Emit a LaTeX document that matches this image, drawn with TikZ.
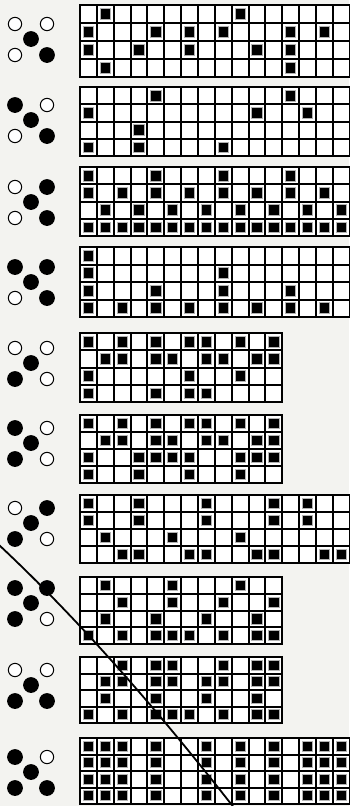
\documentclass[tikz,border=0pt]{standalone}
\usepackage{xcolor}
\usepackage{tikz}
\usetikzlibrary{positioning,calc}
\definecolor{paper}{RGB}{243,243,240}
\newcommand{\cellw}{16.85}
\newcommand{\gridpanel}[4]{%
  \pgfmathsetmacro{\cellh}{(#2-#1)/4}
  \fill[white] (80,#1) rectangle ({80+#3*\cellw},#2);
  \foreach \rowcells [count=\r from 0] in {#4}{
    \foreach \c in \rowcells{
      \draw[markcell] ({80+\c*\cellw+3.3},{#1+\r*\cellh+3.3}) rectangle ({80+(\c+1)*\cellw-3.3},{#1+(\r+1)*\cellh-3.3});
    }
  }
  \foreach \c in {0,...,#3}
    \draw[gridline] ({80+\c*\cellw},#1) -- ({80+\c*\cellw},#2);
  \foreach \r in {0,...,4}
    \draw[gridline] (79,{#1+\r*\cellh}) -- ({81+#3*\cellw},{#1+\r*\cellh});
}
\newcommand{\dotcluster}[6]{%
  \node[dot#3] (#1tl) at (15,{#2-15}) {};
  \node[dot#4] (#1tr) at (47,{#2-15}) {};
  \node[dot1]  (#1c)  at (31,#2) {};
  \node[dot#5] (#1bl) at (15,{#2+16}) {};
  \node[dot#6] (#1br) at (47,{#2+16}) {};
}

\begin{document}
\begin{tikzpicture}[
    x=1pt, y=-1pt,
    dot0/.style={circle, draw=black, line width=1pt, fill=white, minimum size=13.3pt, inner sep=0pt},
    dot1/.style={circle, fill=black, minimum size=15.8pt, inner sep=0pt},
    gridline/.style={draw=black, line width=2pt},
    markcell/.style={fill=black, draw=black!30, line width=0.8pt},
    slash/.style={draw=black, line width=1.8pt}
]
\useasboundingbox (0,0) rectangle (349,806);
\fill[paper] (0,0) rectangle (349,806);

\dotcluster{one}{39}{0}{0}{0}{1}
\gridpanel{5}{77}{16}{{1,9},{0,4,6,8,12,14},{0,3,6,10,12},{1,12}}

\dotcluster{two}{120}{1}{0}{0}{1}
\gridpanel{87}{156}{16}{{4,12},{0,10,13},{3},{0,3,8}}

\dotcluster{three}{202}{0}{1}{0}{1}
\gridpanel{167}{236}{16}{{0,4,8,12},{0,2,4,6,8,10,12,14},{1,3,5,7,9,11,13,15},{0,1,2,3,4,5,6,7,8,9,10,11,12,13,14,15}}

\dotcluster{four}{282}{1}{1}{0}{1}
\gridpanel{247}{317}{16}{{0},{0,8},{0,4,8,12},{0,2,4,6,8,10,12,14}}

\dotcluster{five}{363}{0}{0}{1}{0}
\gridpanel{333}{402}{12}{{0,2,4,6,7,9,11},{1,2,4,5,7,8,10,11},{0,6,9},{0,4,6,7}}

\dotcluster{six}{443}{1}{0}{1}{0}
\gridpanel{415}{483}{12}{{0,2,4,6,7,9,11},{1,2,4,5,7,8,10,11},{0,3,4,5,6,9,10,11},{0,3,6,9}}

\dotcluster{seven}{523}{0}{1}{1}{0}
\gridpanel{495}{563}{16}{{0,3,7,11,13},{0,3,7,11,13},{1,5,9},{2,3,6,7,10,11,14,15}}

\dotcluster{eight}{603}{1}{1}{1}{0}
\gridpanel{577}{644}{12}{{1,5,9},{2,5,8,11},{1,4,7,10},{0,2,4,5,6,8,10,11}}

\dotcluster{nine}{685}{0}{0}{1}{1}
\gridpanel{657}{723}{12}{{2,4,5,8,10,11},{1,2,4,5,7,8,10,11},{1,4,7,10},{0,2,4,5,6,8,10,11}}

\dotcluster{ten}{772}{1}{0}{1}{1}
\gridpanel{738}{804}{16}{{0,1,2,4,7,9,11,13,14,15},{0,1,2,4,7,9,11,13,14,15},{0,1,2,4,7,9,11,13,14,15},{0,1,2,4,7,9,11,13,14,15}}

\coordinate (cutstart) at (-2,544);
\coordinate (cutend) at (235,809);
\draw[slash] (cutstart) .. controls (90,630) and (170,726) .. (cutend);
\end{tikzpicture}
\end{document}
